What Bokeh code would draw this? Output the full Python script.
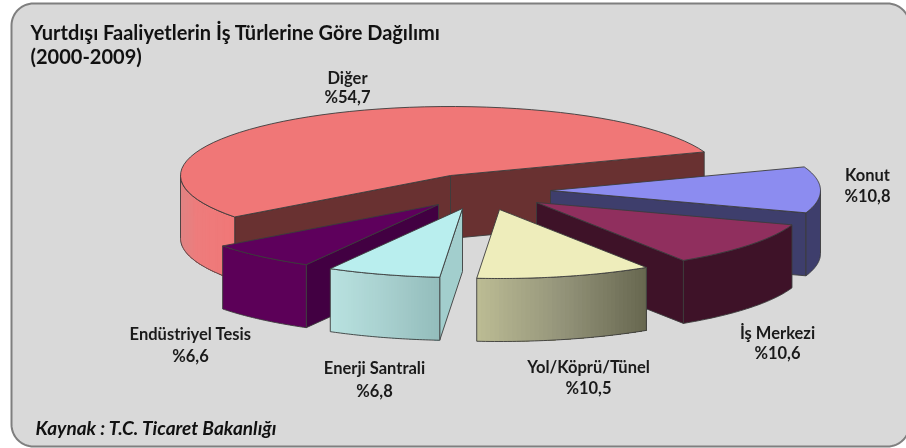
import math
from bokeh.plotting import figure
from bokeh.models import Range1d
from bokeh.core.properties import value
from bokeh.embed import file_html
from bokeh.resources import INLINE

# ---- data
categories = ["Diğer", "Konut", "İş Merkezi", "Yol/Köprü/Tünel", "Enerji Santrali", "Endüstriyel Tesis"]
shares = [54.7, 10.8, 10.6, 10.5, 6.8, 6.6]
title_lines = ["Yurtdışı Faaliyetlerin İş Türlerine Göre Dağılımı", "(2000-2009)"]
source_text = "Kaynak : T.C. Ticaret Bakanlığı"

# ---- layout (page pixels)
W, H = 906, 448
RX, RY, DEPTH = 270, 69, 63
START_ANGLE = 20.0          # where the clockwise sweep of Konut begins
apex = {"Diğer": (450, 175), "Konut": (550, 190), "İş Merkezi": (536, 202),
        "Yol/Köprü/Tünel": (499, 209), "Enerji Santrali": (462, 208), "Endüstriyel Tesis": (438, 204)}
label_pos = {"Diğer": (347, 77, 96), "Konut": (867, 174, 195), "İş Merkezi": (777, 332, 352),
             "Yol/Köprü/Tünel": (588, 366, 387), "Enerji Santrali": (374, 367, 390),
             "Endüstriyel Tesis": (190, 333, 355)}
# ---- styles
top_col = {"Diğer": "#f07777", "Konut": "#8c8cf0", "İş Merkezi": "#902f5e",
           "Yol/Köprü/Tünel": "#eeedbb", "Enerji Santrali": "#b9eeee", "Endüstriyel Tesis": "#5e005c"}
radial_col = {"Diğer": "#693131", "Konut": "#3e3e6c", "İş Merkezi": "#3e1228",
              "Yol/Köprü/Tünel": "#6a6a52", "Enerji Santrali": "#a2cecd", "Endüstriyel Tesis": "#420042"}
wall_grad = {"Diğer": [(0, "#e08484"), (0.3, "#ee7c7c"), (1, "#f07777")],
             "Konut": [(0, "#3e3e6c"), (1, "#3e3e6c")],
             "İş Merkezi": [(0, "#3e1228"), (1, "#3e1228")],
             "Yol/Köprü/Tünel": [(0, "#bcbc94"), (0.5, "#94947a"), (1, "#67674f")],
             "Enerji Santrali": [(0, "#b9e2e0"), (0.5, "#a8d0cf"), (1, "#93bcbc")],
             "Endüstriyel Tesis": [(0, "#5c0058"), (1, "#5c0058")]}
EDGE = "#3c3c3c"
draw_order = ["Diğer", "Konut", "İş Merkezi", "Yol/Köprü/Tünel", "Endüstriyel Tesis", "Enerji Santrali"]


def hex2rgb(c):
    return tuple(int(c[i:i + 2], 16) for i in (1, 3, 5))


def grad(stops, t):
    for (a, ca), (b, cb) in zip(stops, stops[1:]):
        if t <= b:
            f = 0 if b == a else (t - a) / (b - a)
            ra, rb = hex2rgb(ca), hex2rgb(cb)
            return "#%02x%02x%02x" % tuple(round(x + (y - x) * f) for x, y in zip(ra, rb))
    return stops[-1][1]


angles = {}
hi = START_ANGLE
for name, s in zip(categories[1:], shares[1:]):
    lo = hi - s * 3.6
    angles[name] = (hi, lo)
    hi = lo
angles["Diğer"] = (START_ANGLE + shares[0] * 3.6, START_ANGLE)


def arc(name, a, b, n=60):
    cx, cy = apex[name]
    out = []
    for i in range(n + 1):
        t = math.radians(a + (b - a) * i / n)
        out.append((cx + RX * math.cos(t), cy - RY * math.sin(t)))
    return out


p = figure(width=W, height=H, x_range=Range1d(0, W), y_range=Range1d(H, 0),
           x_axis_type=None, y_axis_type=None, toolbar_location=None,
           output_backend="svg", min_border=0, outline_line_color=None,
           background_fill_color="white", border_fill_color="white")
p.grid.visible = False
p.styles = {"position": "fixed", "left": "0", "top": "0"}

# panel
PL, PT, PR, PB, R = 11, 3, 909, 446, 22
pan = []
for (cx, cy, a0) in [(PR - R, PT + R, -90), (PR - R, PB - R, 0), (PL + R, PB - R, 90), (PL + R, PT + R, 180)]:
    for i in range(17):
        t = math.radians(a0 + 90 * i / 16)
        pan.append((cx + R * math.cos(t), cy + R * math.sin(t)))
p.patch([q[0] for q in pan], [q[1] for q in pan], fill_color="#d9d9d9",
        line_color="#7f7f7f", line_width=2)


def poly(pts, col):
    p.patch([q[0] for q in pts], [q[1] for q in pts], fill_color=col, line_color=EDGE, line_width=0.9)


for name in draw_order:
    hi, lo = angles[name]
    ax, ay = apex[name]
    top = [(ax, ay)] + arc(name, hi, lo) + [(ax, ay)]
    for ang, vis in ((lo, math.cos(math.radians(lo)) > 0), (hi, math.cos(math.radians(hi)) < 0)):
        if vis:
            e = arc(name, ang, ang, 1)[0]
            poly([(ax, ay), e, (e[0], e[1] + DEPTH), (ax, ay + DEPTH)], radial_col[name])
    if hi > 180:
        a0, a1 = 180, hi
    else:
        a0, a1 = lo, min(hi, 0)
    if a1 > a0:
        pts = sorted(arc(name, a0, a1, 40), key=lambda q: q[0])
        xmin, xmax = pts[0][0], pts[-1][0]
        stops = wall_grad[name]
        # strips overlap their right neighbour so no seams show between them
        if len(set(c for _, c in stops)) == 1:
            strips = [(pts, stops[0][1])]
        else:
            strips = []
            for i in range(len(pts) - 1):
                t = ((pts[i][0] + pts[i + 1][0]) / 2 - xmin) / (xmax - xmin)
                strips.append((pts[i:], grad(stops, t)))
        for seg, col in strips:
            shape = seg + [(q[0], q[1] + DEPTH) for q in reversed(seg)]
            p.patch([q[0] for q in shape], [q[1] for q in shape], fill_color=col, line_color=None)
        outline = pts + [(q[0], q[1] + DEPTH) for q in reversed(pts)] + [pts[0]]
        p.line([q[0] for q in outline], [q[1] for q in outline], line_color=EDGE, line_width=0.9)
    poly(top, top_col[name])

# labels
for name, s in zip(categories, shares):
    x, y0, y1 = label_pos[name]
    txt = "%" + f"{s:.1f}".replace(".", ",")
    p.text([x, x], [y0, y1], text=[name, txt], text_align="center", text_baseline="middle",
           text_font=value("Lato"), text_font_style="bold", text_font_size="16.5px", text_color="#1a1a1a")

p.text([30], [31], text=[title_lines[0]], text_baseline="middle", text_font=value("Lato"),
       text_font_style="bold", text_font_size="20px", text_color="#111111")
p.text([30], [55], text=[title_lines[1]], text_baseline="middle", text_font=value("Lato"),
       text_font_style="bold", text_font_size="20px", text_color="#111111")
p.text([35], [427], text=[source_text], text_baseline="middle", text_font=value("Lato"),
       text_font_style="bold italic", text_font_size="19px", text_color="#111111")

open("out.html", "w").write(file_html(p, INLINE))
